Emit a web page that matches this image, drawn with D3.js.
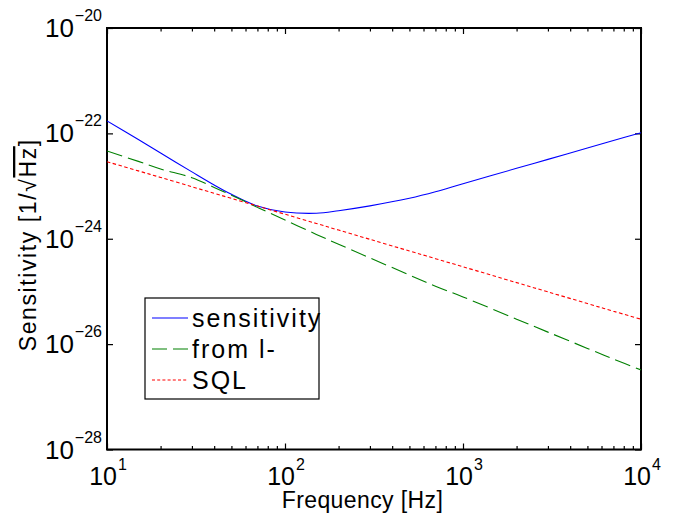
<!DOCTYPE html>
<html>
<head>
<meta charset="utf-8">
<script src="https://cdn.jsdelivr.net/npm/d3@7"></script>
<style>
  html, body { margin: 0; padding: 0; background: #fff; }
  svg { display: block; }
  text { font-family: "Liberation Sans", Arial, sans-serif; fill: #000; }
</style>
</head>
<body>
<svg id="chart" width="688" height="516"></svg>
<script>
// ---- data ----
const frequency = [10, 15, 20, 30, 40, 50, 70, 100, 150, 200, 300, 500, 700, 1000, 2000, 3000, 5000, 7000, 10000];
const sensitivity = [1.72e-22, 7.62e-23, 4.23e-23, 1.86e-23, 1.05e-23, 6.98e-24, 4.19e-24, 3.23e-24, 3.05e-24, 3.41e-24, 4.21e-24, 5.86e-24, 7.78e-24, 1.11e-23, 2.17e-23, 3.21e-23, 5.26e-23, 7.3e-23, 1.03e-22];
const fromLminus = [4.63e-23, 2.94e-23, 2.11e-23, 1.44e-23, 9.4e-24, 6.7e-24, 3.94e-24, 2.26e-24, 1.21e-24, 7.87e-25, 4.33e-25, 2.05e-25, 1.26e-25, 7.87e-26, 2.98e-26, 1.69e-26, 8.3e-27, 5.2e-27, 3.24e-27];
const sql = [2.9e-23, 1.94e-23, 1.46e-23, 9.7e-24, 7.3e-24, 5.83e-24, 4.18e-24, 2.92e-24, 1.95e-24, 1.46e-24, 9.75e-25, 5.86e-25, 4.19e-25, 2.94e-25, 1.47e-25, 9.8e-26, 5.9e-26, 4.21e-26, 2.97e-26];
const seriesNames = ["sensitivity", "from l-", "SQL"];
const xMajorTicks = [10, 100, 1000, 10000];
const xTickExponents = ["1", "2", "3", "4"];
const yMajorTicks = [1e-20, 1e-22, 1e-24, 1e-26, 1e-28];
const yTickExponents = ["\u221220", "\u221222", "\u221224", "\u221226", "\u221228"];
const xLabel = "Frequency [Hz]";

// ---- layout ----
const L = 107, R = 641, T = 28, B = 449.5;
const svg = d3.select("#chart");
const x = d3.scaleLog().domain([10, 1e4]).range([L, R]);
const y = d3.scaleLog().domain([1e-28, 1e-20]).range([B, T]);

// minor x ticks
const xMinor = [];
[10, 100, 1000].forEach(d => { for (let k = 2; k <= 9; k++) xMinor.push(d * k); });

function styleAxis(g) {
  g.select(".domain").remove();
  g.selectAll(".tick line").attr("stroke", "#000").attr("stroke-width", 1.2);
  g.selectAll(".tick text").remove();
}

// bottom & top axes (inward ticks)
svg.append("g").attr("transform", `translate(0,${B})`)
  .call(d3.axisBottom(x).tickValues(xMajorTicks).tickSize(-6).tickSizeOuter(0)).call(styleAxis);
svg.append("g").attr("transform", `translate(0,${B})`)
  .call(d3.axisBottom(x).tickValues(xMinor).tickSize(-3.5).tickSizeOuter(0)).call(styleAxis);
svg.append("g").attr("transform", `translate(0,${T})`)
  .call(d3.axisTop(x).tickValues(xMajorTicks).tickSize(-6).tickSizeOuter(0)).call(styleAxis);
svg.append("g").attr("transform", `translate(0,${T})`)
  .call(d3.axisTop(x).tickValues(xMinor).tickSize(-3.5).tickSizeOuter(0)).call(styleAxis);
// left & right
svg.append("g").attr("transform", `translate(${L},0)`)
  .call(d3.axisLeft(y).tickValues(yMajorTicks).tickSize(-6).tickSizeOuter(0)).call(styleAxis);
svg.append("g").attr("transform", `translate(${R},0)`)
  .call(d3.axisRight(y).tickValues(yMajorTicks).tickSize(-6).tickSizeOuter(0)).call(styleAxis);

// frame
svg.append("rect").attr("x", L).attr("y", T).attr("width", R - L).attr("height", B - T)
  .attr("fill", "none").attr("stroke", "#000").attr("stroke-width", 2);

// tick labels
xMajorTicks.forEach((v, i) => {
  const t = svg.append("text").attr("x", x(v) + 1).attr("y", 485).attr("text-anchor", "middle")
    .attr("font-size", 25);
  t.append("tspan").text("10");
  t.append("tspan").attr("font-size", 16).attr("dy", -15).attr("dx", 1).text(xTickExponents[i]);
});
yMajorTicks.forEach((v, i) => {
  const t = svg.append("text").attr("x", 102).attr("y", y(v) + 9).attr("text-anchor", "end")
    .attr("font-size", 26);
  t.append("tspan").text("10");
  t.append("tspan").attr("font-size", 16).attr("dy", -16).attr("dx", 1).text(yTickExponents[i]);
});

// axis titles
svg.append("text").attr("x", 362.5).attr("y", 508).attr("text-anchor", "middle")
  .attr("font-size", 23).attr("letter-spacing", 0.4).text(xLabel);
const yt = svg.append("text").attr("transform", `translate(36,${(T + B) / 2 + 6}) rotate(-90)`)
  .attr("text-anchor", "middle").attr("font-size", 23).attr("letter-spacing", 1.6);
yt.append("tspan").text("Sensitivity [1/\u221A");
yt.append("tspan").attr("text-decoration", "overline").text("Hz");
yt.append("tspan").text("]");

// lines
const styles = [
  { color: "#0000ff", dash: null, data: sensitivity },
  { color: "#008000", dash: "16,6", data: fromLminus },
  { color: "#ff0000", dash: "3.5,2.5", data: sql }
];
const clipId = "plotclip";
svg.append("clipPath").attr("id", clipId).append("rect")
  .attr("x", L).attr("y", T).attr("width", R - L).attr("height", B - T);
const line = d3.line().x(d => x(d[0])).y(d => y(d[1])).curve(d3.curveCatmullRom.alpha(0.5));
styles.forEach(s => {
  svg.append("path")
    .datum(frequency.map((f, i) => [f, s.data[i]]))
    .attr("d", line)
    .attr("fill", "none")
    .attr("stroke", s.color)
    .attr("stroke-width", 1.1)
    .attr("stroke-dasharray", s.dash)
    .attr("clip-path", `url(#${clipId})`);
});

// legend
const lg = svg.append("g");
lg.append("rect").attr("x", 145).attr("y", 298).attr("width", 174).attr("height", 101)
  .attr("fill", "#fff").attr("stroke", "#000").attr("stroke-width", 1.2);
const legendY = [318, 349, 380];
styles.forEach((s, i) => {
  lg.append("line").attr("x1", 152).attr("x2", 188).attr("y1", legendY[i]).attr("y2", legendY[i])
    .attr("stroke", s.color).attr("stroke-width", 1.1)
    .attr("stroke-dasharray", i === 1 ? "15,6" : (i === 2 ? "3,2.2" : null));
  lg.append("text").attr("x", 192).attr("y", legendY[i] + 9).attr("font-size", 25)
    .attr("letter-spacing", 2.0).text(seriesNames[i]);
});
</script>
</body>
</html>
